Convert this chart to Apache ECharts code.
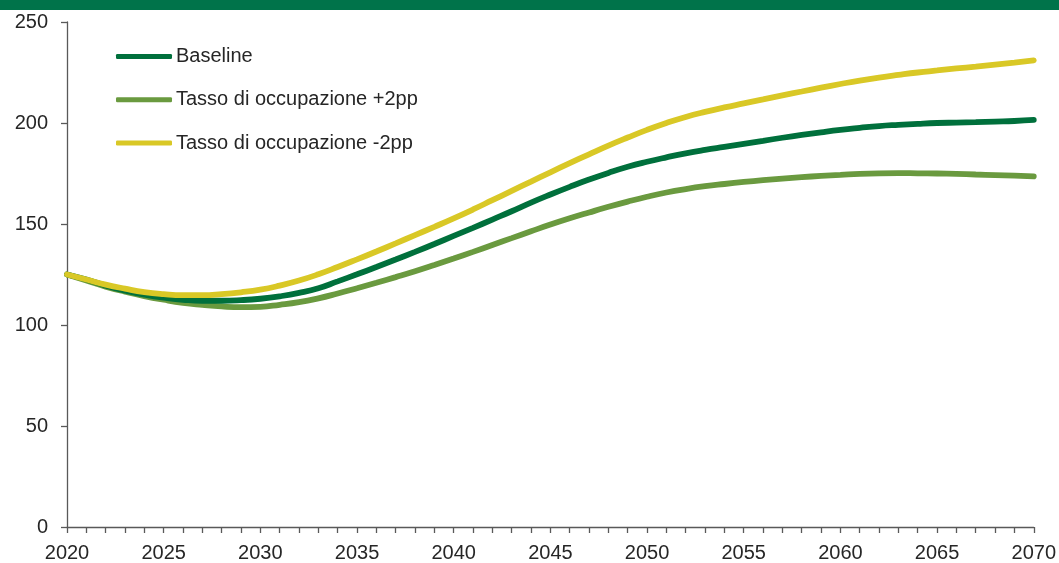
<!DOCTYPE html>
<html>
<head>
<meta charset="utf-8">
<script src="https://cdn.jsdelivr.net/npm/echarts@6/dist/echarts.min.js"></script>
<style>html,body{margin:0;padding:0;background:#fff}#c{width:1059px;height:563px}</style>
</head>
<body>
<div id="c"></div>
<script>
var years = [];
for (var y = 2020; y <= 2070; y++) years.push(y);
var seriesNames = ['Baseline', 'Tasso di occupazione +2pp', 'Tasso di occupazione -2pp'];
var baseline = [125,122.5,119.5,117,115,113.5,112.5,112,112,112.3,113,114.2,115.9,118.2,121.6,125.1,128.7,132.4,136.2,140.1,144.1,148.1,152.2,156.3,160.6,164.6,168.4,172,175.3,178.3,180.8,183,185,186.7,188.2,189.7,191.2,192.7,194.1,195.4,196.6,197.6,198.5,199.1,199.6,200,200.2,200.4,200.7,201,201.5];
var occPlus2 = [125,122,119,116.5,114.3,112.5,111,110,109.2,108.8,109,110,111.3,113.2,115.6,118.2,120.9,123.7,126.6,129.7,132.9,136.2,139.6,143,146.4,149.7,152.8,155.7,158.5,161.1,163.5,165.6,167.3,168.7,169.8,170.8,171.7,172.5,173.2,173.8,174.3,174.8,175.1,175.2,175.1,175,174.8,174.5,174.2,173.9,173.6];
var occMinus2 = [125,122.5,120,118,116.3,115.3,114.8,114.8,115.3,116.2,117.5,119.5,122,125.1,128.7,132.5,136.4,140.4,144.5,148.6,152.8,157.2,161.8,166.4,171,175.6,180.1,184.5,188.8,192.8,196.6,200,203,205.5,207.7,209.7,211.7,213.7,215.6,217.5,219.3,221,222.5,223.8,225,226,227,227.9,228.9,229.9,231];
var yTicks = {min: 0, max: 250, interval: 50};

function pairs(arr) { return years.map(function (yr, i) { return [yr, arr[i]]; }); }

var colors = {base: '#00703C', plus: '#6A9A3F', minus: '#D9C826'};
var font = 'Liberation Sans, Arial, sans-serif';
var chart = echarts.init(document.getElementById('c'), null, {renderer: 'canvas'});
chart.setOption({
  animation: false,
  graphic: [{type: 'rect', shape: {x: 0, y: 0, width: 1059, height: 10}, style: {fill: '#00734A'}, z: 100}],
  grid: {left: 67, right: 17, top: 22, bottom: 36, containLabel: false},
  legend: {
    orient: 'vertical', left: 116, top: 46.5, padding: 0,
    itemWidth: 56, itemHeight: 5, itemGap: 23.3,
    icon: 'roundRect',
    textStyle: {fontFamily: font, fontSize: 20, color: '#262626', lineHeight: 20, padding: [0, 0, 0, -1]},
    data: seriesNames
  },
  xAxis: {
    type: 'value', min: 2020, max: 2070, interval: 1,
    axisLine: {lineStyle: {color: '#595959', width: 1.3}},
    axisTick: {show: true, length: 6, lineStyle: {color: '#595959', width: 1.3}},
    splitLine: {show: false},
    axisLabel: {
      fontFamily: font, fontSize: 20, color: '#262626', margin: 16,
      formatter: function (v) { return v % 5 === 0 ? String(v) : ''; }
    }
  },
  yAxis: {
    type: 'value', min: yTicks.min, max: yTicks.max, interval: yTicks.interval,
    axisLine: {show: true, lineStyle: {color: '#595959', width: 1.3}},
    axisTick: {show: true, length: 6, lineStyle: {color: '#595959', width: 1.3}},
    splitLine: {show: false},
    axisLabel: {fontFamily: font, fontSize: 20, color: '#262626', margin: 19}
  },
  series: [
    {name: seriesNames[1], type: 'line', smooth: true, showSymbol: false, data: pairs(occPlus2),
     itemStyle: {color: colors.plus}, lineStyle: {color: colors.plus, width: 5.8, cap: 'round'}},
    {name: seriesNames[0], type: 'line', smooth: true, showSymbol: false, data: pairs(baseline),
     itemStyle: {color: colors.base}, lineStyle: {color: colors.base, width: 5.8, cap: 'round'}},
    {name: seriesNames[2], type: 'line', smooth: true, showSymbol: false, data: pairs(occMinus2),
     itemStyle: {color: colors.minus}, lineStyle: {color: colors.minus, width: 5.8, cap: 'round'}}
  ]
});
</script>
</body>
</html>
